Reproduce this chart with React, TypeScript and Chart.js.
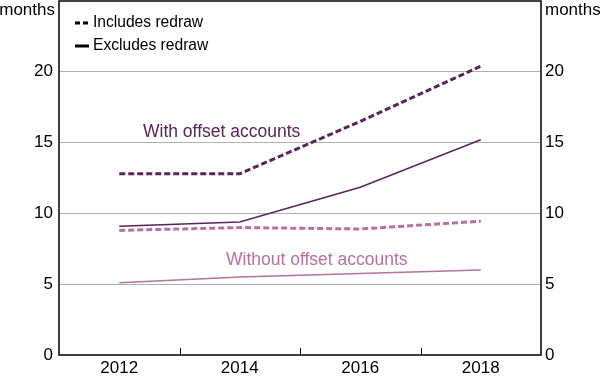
import React, { useEffect, useRef } from "react";
import { Chart, registerables } from "chart.js";

Chart.register(...registerables);

const years = [2012, 2014, 2016, 2018];
const withOffsetIncl = [12.8, 12.8, 16.5, 20.4];
const withOffsetExcl = [9.1, 9.4, 11.85, 15.2];
const withoutOffsetIncl = [8.8, 9.0, 8.9, 9.45];
const withoutOffsetExcl = [5.1, 5.5, 5.75, 6.0];
const yTicks = [0, 5, 10, 15, 20];
const xLabelYears = [2012, 2014, 2016, 2018];
const xMinorTicks = [2013, 2015, 2017];

const DARK = "#5a2458";
const PINK = "#b5729c";
const FONT = "'Liberation Sans', Arial, sans-serif";

const pts = (vals: number[]) => years.map((x, i) => ({ x, y: vals[i] }));

const decorPlugin = {
  id: "decor",
  afterDraw(chart: any) {
    const { ctx, chartArea: a, scales } = chart;
    const xs = scales.x;
    ctx.save();
    // frame
    ctx.strokeStyle = "#000";
    ctx.lineWidth = 1.5;
    ctx.beginPath();
    ctx.moveTo(a.left, a.top);
    ctx.lineTo(a.right, a.top);
    ctx.lineTo(a.right, a.bottom);
    ctx.lineTo(a.left, a.bottom);
    ctx.closePath();
    ctx.stroke();
    // minor x ticks
    ctx.lineWidth = 1;
    xMinorTicks.forEach((yr) => {
      const px = Math.round(xs.getPixelForValue(yr)) + 0.5;
      ctx.beginPath();
      ctx.moveTo(px, a.bottom);
      ctx.lineTo(px, a.bottom - 7);
      ctx.stroke();
    });
    // units
    ctx.fillStyle = "#000";
    ctx.font = `17px ${FONT}`;
    ctx.textBaseline = "alphabetic";
    ctx.textAlign = "right";
    ctx.fillText("months", a.left - 4, 15);
    ctx.textAlign = "left";
    ctx.fillText("months", a.right + 4, 15);
    // legend
    ctx.lineWidth = 3;
    ctx.strokeStyle = "#000";
    ctx.setLineDash([5, 3]);
    ctx.beginPath();
    ctx.moveTo(75, 23);
    ctx.lineTo(89, 23);
    ctx.stroke();
    ctx.setLineDash([]);
    ctx.beginPath();
    ctx.moveTo(75, 46);
    ctx.lineTo(89, 46);
    ctx.stroke();
    ctx.font = `15.6px ${FONT}`;
    ctx.textBaseline = "middle";
    ctx.fillText("Includes redraw", 93, 23);
    ctx.fillText("Excludes redraw", 93, 46);
    // series labels
    ctx.font = `17.5px ${FONT}`;
    ctx.textBaseline = "alphabetic";
    ctx.fillStyle = DARK;
    ctx.fillText("With offset accounts", 143, 137);
    ctx.fillStyle = PINK;
    ctx.fillText("Without offset accounts", 226, 265);
    ctx.restore();
  },
};

const yFit = (s: any) => {
  s.width = 59;
  s.paddingTop = 0;
  s.paddingBottom = 0;
};

export default function App() {
  const ref = useRef<HTMLCanvasElement>(null);
  useEffect(() => {
    if (!ref.current) return;
    const chart = new Chart(ref.current, {
      type: "line",
      data: {
        datasets: [
          { data: pts(withOffsetIncl), borderColor: DARK, borderWidth: 3, borderDash: [6, 3], pointRadius: 0 },
          { data: pts(withOffsetExcl), borderColor: DARK, borderWidth: 1.5, pointRadius: 0 },
          { data: pts(withoutOffsetIncl), borderColor: PINK, borderWidth: 3, borderDash: [6, 3], pointRadius: 0 },
          { data: pts(withoutOffsetExcl), borderColor: PINK, borderWidth: 1.5, pointRadius: 0 },
        ],
      },
      options: {
        animation: false,
        responsive: false,
        maintainAspectRatio: false,
        layout: { padding: { top: 1, left: 0, right: 0, bottom: 0 } },
        plugins: { legend: { display: false }, tooltip: { enabled: false } },
        scales: {
          x: {
            type: "linear",
            min: 2011,
            max: 2019,
            afterBuildTicks: (s: any) => {
              s.ticks = xLabelYears.map((v) => ({ value: v }));
            },
            afterFit: (s: any) => {
              s.height = 21;
              s.paddingLeft = 0;
              s.paddingRight = 0;
            },
            grid: { display: false, drawTicks: false, tickLength: 0 },
            border: { display: false },
            ticks: {
              color: "#000",
              font: { family: FONT, size: 17 },
              padding: 3,
              maxRotation: 0,
              callback: (v: any) => String(v),
            },
          },
          y: {
            position: "left",
            min: 0,
            max: 25,
            afterBuildTicks: (s: any) => {
              s.ticks = [...yTicks, 25].map((v) => ({ value: v }));
            },
            afterFit: yFit,
            grid: {
              color: (c: any) => (c.tick && (c.tick.value === 0 || c.tick.value === 25) ? "rgba(0,0,0,0)" : "#b0b0b0"),
              drawTicks: false,
              lineWidth: 1,
            },
            border: { display: false },
            ticks: {
              color: "#000",
              font: { family: FONT, size: 17 },
              padding: 6,
              callback: (v: any) => (v === 25 ? "" : String(v)),
            },
          },
          y2: {
            position: "right",
            min: 0,
            max: 25,
            afterBuildTicks: (s: any) => {
              s.ticks = [...yTicks, 25].map((v) => ({ value: v }));
            },
            afterFit: yFit,
            grid: { display: false, drawTicks: false },
            border: { display: false },
            ticks: {
              color: "#000",
              font: { family: FONT, size: 17 },
              padding: 4,
              callback: (v: any) => (v === 25 ? "" : String(v)),
            },
          },
        },
      } as any,
      plugins: [decorPlugin],
    });
    return () => chart.destroy();
  }, []);
  return (
    <div style={{ position: "fixed", left: 0, top: 0, width: 600, height: 376, background: "#fff" }}>
      <canvas ref={ref} width={600} height={376} style={{ width: 600, height: 376, display: "block" }} />
    </div>
  );
}
